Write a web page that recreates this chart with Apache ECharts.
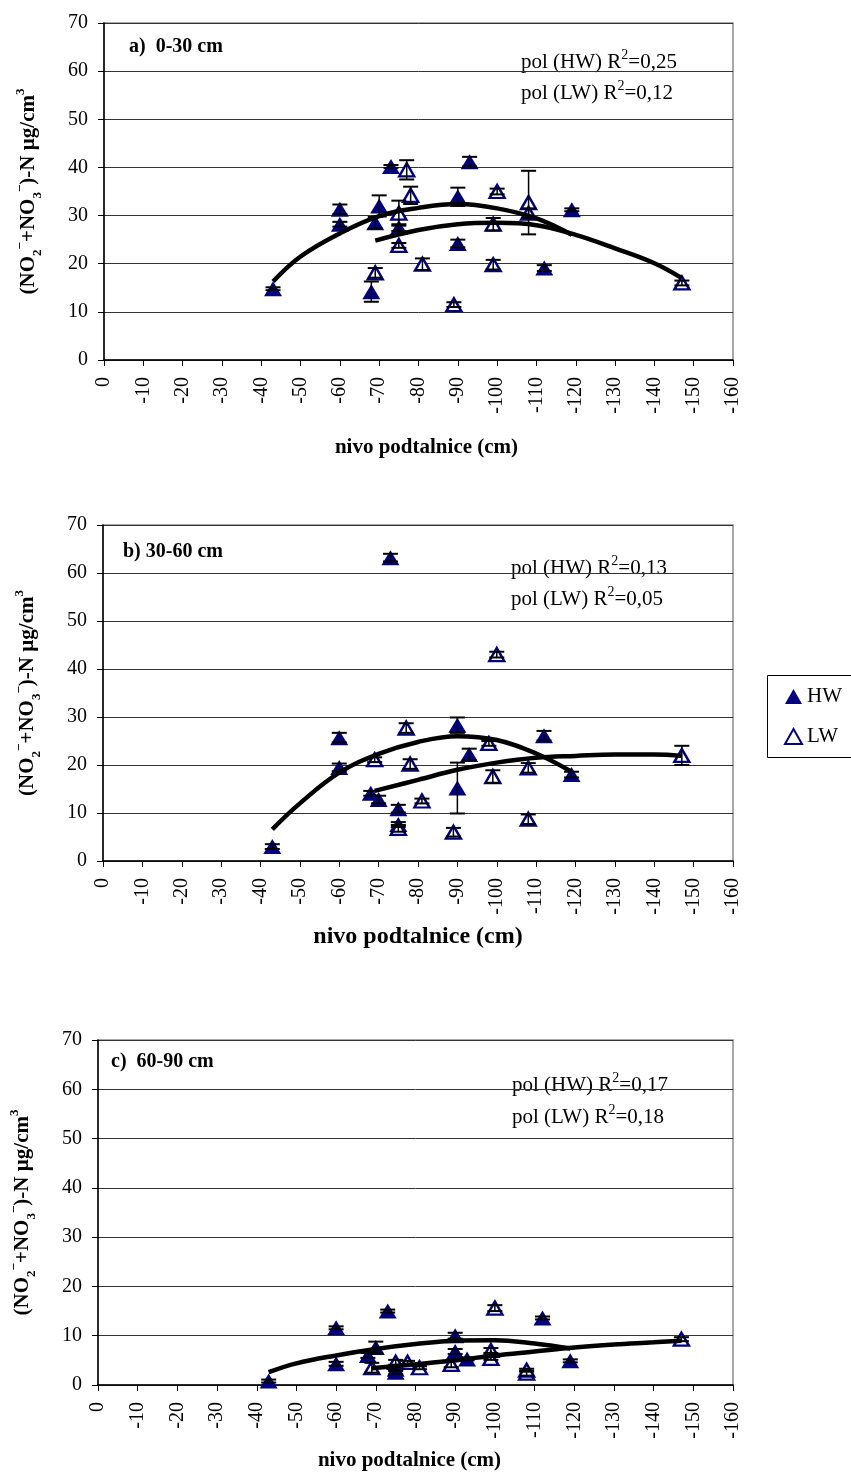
<!DOCTYPE html>
<html><head><meta charset="utf-8">
<script src="https://cdn.jsdelivr.net/npm/echarts@6/dist/echarts.min.js"></script>
<style>html,body{margin:0;padding:0;background:#fff}#c{width:851px;height:1472px}</style>
</head><body><div id="c"></div>
<script>
// ---- tick settings ----
const xTicks = [0,-10,-20,-30,-40,-50,-60,-70,-80,-90,-100,-110,-120,-130,-140,-150,-160];
const yTicks = [0,10,20,30,40,50,60,70];

// ---- panel labels ----
const panelLabels = ['a)  0-30 cm', 'b) 30-60 cm', 'c)  60-90 cm'];
const r2HW = ['0,25', '0,13', '0,17'];
const r2LW = ['0,12', '0,05', '0,18'];

// ---- a) 0-30 cm ----
const hwA = [[-43,14.8],[-60,31.3],[-60,28.2],[-68,14.2],[-69,28.5],[-70,32.0],[-73,40.2],[-75,27.5],[-90,33.9],[-90,24.2],[-93,41.2],[-112,19.1],[-119,31.2]];
const hwAErr = [0.3,1.0,0.5,2.1,1.2,2.2,0.3,0.7,1.9,0.8,1.0,0.6,0.3];
const lwA = [[-69,18.1],[-75,30.5],[-75,23.8],[-77,39.5],[-78,34.2],[-81,19.9],[-89,11.5],[-99,28.2],[-99,19.8],[-100,35.0],[-108,32.7],[-108,30.5],[-147,16.0]];
const lwAErr = [1.0,2.6,0.5,2.0,1.8,1.2,0.5,1.3,1.0,0.6,6.6,1.0,0.5];
const trendHwA = [[-43,16.3],[-50,21.5],[-60,26.3],[-70,29.9],[-80,31.6],[-90,32.4],[-100,31.5],[-110,29.4],[-119,26.0]];
const trendLwA = [[-69,24.8],[-80,27.0],[-90,28.2],[-100,28.5],[-110,28.0],[-120,26.0],[-130,23.2],[-140,20.1],[-147,17.0]];

// ---- b) 30-60 cm ----
const hwB = [[-43,3.0],[-60,25.7],[-60,19.5],[-68,14.1],[-70,12.8],[-73,63.2],[-75,10.9],[-75,7.6],[-90,28.3],[-90,15.2],[-93,22.2],[-112,26.1],[-119,18.0]];
const hwBErr = [0.5,1.0,0.8,0.5,0.8,0.8,0.8,0.5,1.6,5.3,1.2,1.0,0.6];
const lwB = [[-69,21.1],[-75,6.8],[-77,27.7],[-78,20.2],[-81,12.5],[-89,6.0],[-98,24.5],[-99,17.6],[-100,43.0],[-108,19.4],[-108,8.7],[-147,22.0]];
const lwBErr = [0.5,0.7,1.0,1.0,0.5,0.9,0.5,1.3,0.6,1.0,1.0,2.0];
const trendHwB = [[-43,6.6],[-50,12.0],[-60,18.4],[-70,22.3],[-80,24.8],[-90,26.0],[-100,25.2],[-110,22.4],[-119,18.6]];
const trendLwB = [[-69,14.6],[-80,16.9],[-90,19.0],[-100,20.5],[-110,21.5],[-120,21.9],[-130,22.2],[-140,22.2],[-147,21.9]];

// ---- c) 60-90 cm ----
const hwC = [[-43,0.8],[-60,11.6],[-60,4.3],[-68,6.0],[-70,7.6],[-73,15.0],[-75,3.2],[-75,2.6],[-90,10.0],[-90,6.8],[-93,5.3],[-112,13.6],[-119,4.9]];
const hwCErr = [0.3,0.3,0.4,0.5,1.2,0.3,0.4,0.4,0.6,0.5,0.3,0.3,0.3];
const lwC = [[-69,3.5],[-75,4.6],[-78,4.6],[-81,3.5],[-89,4.2],[-99,7.0],[-99,5.4],[-100,15.6],[-108,2.4],[-108,3.0],[-147,9.3]];
const lwCErr = [1.0,0.5,0.3,0.3,0.6,0.5,0.3,0.6,0.5,0.3,0.4];
const trendHwC = [[-43,2.6],[-50,4.4],[-60,6.0],[-70,7.3],[-80,8.3],[-90,9.0],[-100,9.1],[-110,8.4],[-119,7.4]];
const trendLwC = [[-69,3.4],[-80,4.2],[-90,5.0],[-100,6.0],[-110,6.8],[-120,7.6],[-130,8.2],[-140,8.65],[-147,9.0]];

const panels = [
  {hw:hwA, hwErr:hwAErr, lw:lwA, lwErr:lwAErr, tHw:trendHwA, tLw:trendLwA},
  {hw:hwB, hwErr:hwBErr, lw:lwB, lwErr:lwBErr, tHw:trendHwB, tLw:trendLwB},
  {hw:hwC, hwErr:hwCErr, lw:lwC, lwErr:lwCErr, tHw:trendHwC, tLw:trendLwC}
];

const FONT = 'Liberation Serif';
const NAVY = '#000080';

// layout (pixels)
const grids = [
  {left:104, top:23, width:629, height:337},
  {left:103, top:525, width:630, height:336},
  {left:98, top:1040, width:635, height:348}
];
const xNameCfg = [
  {gap:77, size:21, pad:[0,0,0,16]},
  {gap:64, size:24, pad:[0,0,0,0]},
  {gap:65, size:21, pad:[0,12,0,0]}
];
const labelPos = [
  {lx:129, ly:47, rx:521, ry1:62, ry2:93},
  {lx:123, ly:552, rx:511, ry1:568, ry2:599},
  {lx:111, ly:1062, rx:512, ry1:1085, ry2:1117}
];

const yName = '{t|(NO}{s|2}{p|−}{t|+NO}{s|3}{p|−}{t|)-N µg/cm}{p|3}';
const yRich = {
  t:{fontFamily:FONT, fontWeight:'bold', fontSize:21, color:'#000', lineHeight:30},
  s:{fontFamily:FONT, fontWeight:'bold', fontSize:13, color:'#000', lineHeight:30, verticalAlign:'bottom'},
  p:{fontFamily:FONT, fontWeight:'bold', fontSize:13, color:'#000', lineHeight:30, verticalAlign:'top'}
};
const r2Rich = {
  n:{fontFamily:FONT, fontSize:21, fill:'#000', lineHeight:28},
  s:{fontFamily:FONT, fontSize:14, fill:'#000', lineHeight:28, verticalAlign:'top'}
};

const option = {
  animation:false,
  backgroundColor:'#fff',
  grid: grids.map(g => Object.assign({show:true, borderColor:'#8c8c8c', borderWidth:1.5, backgroundColor:'transparent'}, g)),
  xAxis: grids.map((g,i) => ({
    gridIndex:i, type:'value', min:xTicks[xTicks.length-1], max:xTicks[0], interval:xTicks[0]-xTicks[1], inverse:true,
    axisLine:{show:true, onZero:false, lineStyle:{color:'#000', width:1.5}},
    axisTick:{show:true, length:6, lineStyle:{color:'#000', width:1}},
    axisLabel:{rotate:90, margin:17, fontFamily:FONT, fontSize:20, color:'#000'},
    splitLine:{show:false},
    name:'nivo podtalnice (cm)', nameLocation:'middle', nameGap:xNameCfg[i].gap,
    nameTextStyle:{fontFamily:FONT, fontWeight:'bold', fontSize:xNameCfg[i].size, color:'#000', padding:xNameCfg[i].pad}
  })),
  yAxis: grids.map((g,i) => ({
    gridIndex:i, type:'value', min:yTicks[0], max:yTicks[yTicks.length-1], interval:yTicks[1]-yTicks[0],
    axisLine:{show:true, lineStyle:{color:'#000', width:1.5}},
    axisTick:{show:true, length:6, lineStyle:{color:'#000', width:1}},
    axisLabel:{margin:16, fontFamily:FONT, fontSize:20, color:'#000'},
    splitLine:{show:true, lineStyle:{color:'#333', width:1}},
    name:yName, nameLocation:'middle', nameRotate:90, nameGap:60,
    nameTextStyle:{rich:yRich}
  })),
  legend:{
    orient:'vertical', left:767, top:675, padding:[11,0,10,17], itemGap:19,
    itemWidth:17, itemHeight:15,
    textStyle:{fontFamily:FONT, fontSize:21, color:'#000'},
    data:['HW','LW'], selectedMode:false
  },
  graphic: [
    {type:'rect', shape:{x:767.5, y:675.5, width:120, height:82}, style:{fill:'none', stroke:'#000', lineWidth:1}, silent:true}
  ],
  series: []
};

function errRender(params, api){
  const x = api.value(0), lo = api.value(1), hi = api.value(2);
  const p1 = api.coord([x, hi]), p2 = api.coord([x, lo]);
  const w = 7.5;
  const st = {stroke:'#000', lineWidth:1.5};
  const cs = {stroke:'#000', lineWidth:2};
  return {type:'group', children:[
    {type:'line', shape:{x1:p1[0], y1:p1[1], x2:p2[0], y2:p2[1]}, style:st},
    {type:'line', shape:{x1:p1[0]-w, y1:p1[1], x2:p1[0]+w, y2:p1[1]}, style:cs},
    {type:'line', shape:{x1:p2[0]-w, y1:p2[1], x2:p2[0]+w, y2:p2[1]}, style:cs}
  ]};
}

panels.forEach((p, i) => {
  option.series.push({
    name:'HW', type:'scatter', xAxisIndex:i, yAxisIndex:i, data:p.hw,
    symbol:'triangle', symbolSize:[18,15], itemStyle:{color:NAVY, opacity:1}, z:2, silent:true
  });
  option.series.push({
    name:'LW', type:'scatter', xAxisIndex:i, yAxisIndex:i, data:p.lw,
    symbol:'triangle', symbolSize:[15,13], itemStyle:{color:'#fff', borderColor:NAVY, borderWidth:2.4, opacity:1}, z:2, silent:true
  });
  const errData = p.hw.map((d,k) => [d[0], d[1]-p.hwErr[k], d[1]+p.hwErr[k]])
    .concat(p.lw.map((d,k) => [d[0], d[1]-p.lwErr[k], d[1]+p.lwErr[k]]));
  option.series.push({
    name:'err', type:'custom', xAxisIndex:i, yAxisIndex:i, data:errData,
    renderItem:errRender, encode:{x:0, y:[1,2]}, z:3, silent:true
  });
  [p.tHw, p.tLw].forEach(t => option.series.push({
    name:'trend', type:'line', xAxisIndex:i, yAxisIndex:i, data:t, smooth:0.4,
    symbol:'none', lineStyle:{color:'#000', width:4.5}, z:4, silent:true
  }));
  const L = labelPos[i];
  option.graphic.push(
    {type:'text', x:L.lx, y:L.ly, style:{text:panelLabels[i], fontFamily:FONT, fontWeight:'bold', fontSize:20, fill:'#000', verticalAlign:'middle'}},
    {type:'text', x:L.rx, y:L.ry1, style:{text:'{n|pol (HW) R}{s|2}{n|=' + r2HW[i] + '}', rich:r2Rich, verticalAlign:'middle'}},
    {type:'text', x:L.rx, y:L.ry2, style:{text:'{n|pol (LW) R}{s|2}{n|=' + r2LW[i] + '}', rich:r2Rich, verticalAlign:'middle'}}
  );
});

const chart = echarts.init(document.getElementById('c'));
chart.setOption(option);
</script>
</body></html>
